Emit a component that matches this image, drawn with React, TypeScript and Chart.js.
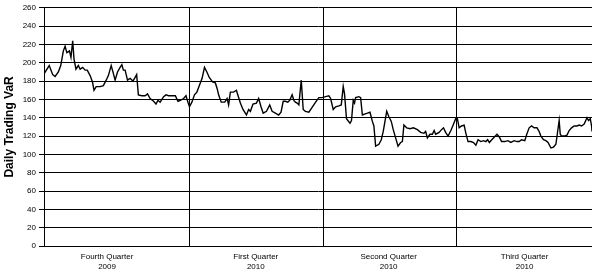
import { useEffect, useRef } from "react";
import { Chart, registerables } from "chart.js";

Chart.register(...registerables);

// Trading-day position (from start of Q4 2009) and daily VaR readings
const days = [
  0, 2.4, 4.0, 5.1, 6.6, 7.7, 8.9, 9.7, 10.5, 11.7,
  12.4, 13.2, 13.8, 14.7, 15.8, 16.6, 17.8, 18.9, 19.9, 21.2,
  22.3, 23.0, 24.0, 25.8, 27.3, 28.6, 29.6, 30.9, 31.7, 32.7,
  33.8, 35.0, 35.8, 36.5, 37.3, 38.4, 39.6, 40.9, 41.9, 42.6,
  43.4,
  45.0, 46.5, 47.6, 48.8, 50.4, 51.5, 52.4, 53.4, 55.0, 56.1,
  57.3, 58.8, 60.4, 61.6, 62.7, 64.2, 65.3, 66.2, 66.9, 68.0,
  69.2, 70.3, 71.4, 72.7, 73.8, 74.9, 76.0, 77.5, 78.8, 79.6,
  80.3, 81.5, 83.1, 84.2, 84.9, 85.7, 87.2, 88.5,
  89.1, 90.3, 91.5, 93.1, 94.1, 94.9, 96.1, 97.7, 98.7, 99.8,
  100.8, 102.3, 103.8, 104.9, 106.4, 107.9, 109.0, 110.0, 111.0, 112.1,
  113.0, 114.1, 114.9, 115.6, 116.4, 117.2, 118.3, 119.2, 120.2, 121.8,
  122.9, 124.9, 126.4, 127.9, 129.5, 131.0,
  131.8, 133.0, 134.1, 135.6, 136.7, 137.6, 138.2, 139.1, 140.7, 141.4,
  142.2, 142.8, 143.3, 144.8, 145.6, 146.4, 147.4, 148.7, 149.9, 151.0,
  151.7, 152.5, 154.0, 155.1, 156.0, 157.6, 158.6, 159.7, 160.6, 161.7,
  162.8, 164.0, 164.8, 165.5, 166.8, 168.3, 169.9, 171.7, 173.2,
  174.7, 175.5, 176.3, 177.5, 178.6, 179.4, 180.1, 181.7, 182.8, 183.7,
  184.7, 185.8, 187.1, 188.3, 189.3, 190.1, 190.9, 192.0, 193.2, 194.0,
  195.0, 196.3, 197.5, 198.6, 199.6, 200.9, 202.1, 203.2, 204.0, 204.8,
  205.9, 207.1, 208.3, 209.4,
  210.4, 211.9, 213.3, 214.7, 216.2, 217.5, 218.5, 219.6, 221.1, 222.0,
  223.1, 224.2, 225.4, 226.7, 227.7, 228.5, 229.7, 230.8, 231.8, 233.1,
  234.3, 235.4, 236.2, 236.9, 237.4, 238.0, 239.2, 240.5, 241.5, 242.6,
  243.8, 245.1, 246.1, 247.2, 248.4, 249.7, 250.4, 251.2, 251.8, 252,
];

const varValues = [
  188, 197, 187, 185, 190, 197, 213, 218, 211, 213,
  206, 224, 204, 193, 197, 193, 195, 192, 192, 186,
  179, 170, 174, 174, 175, 181, 186, 197, 190, 181,
  190, 195, 198, 192, 192, 181, 183, 180, 184, 187,
  165,
  164, 164, 166, 161, 158, 155, 159, 157, 163, 165,
  164, 164, 164, 158, 159, 161, 164, 157, 152, 157,
  165, 168, 175, 183, 195, 190, 184, 179, 178, 172,
  165, 157, 157, 161, 154, 168, 168, 170,
  165, 156, 149, 143, 149, 147, 155, 156, 161, 152,
  145, 147, 154, 147, 145, 143, 146, 158, 158, 157,
  159, 165, 159, 157, 156, 154, 181, 149, 147, 146,
  150, 157, 162, 162, 163, 164,
  161, 149, 152, 153, 154, 174, 166, 139, 134, 137,
  159, 156, 162, 163, 162, 143, 144, 145, 146, 136,
  131, 109, 111, 116, 125, 147, 141, 136, 127, 118,
  109, 113, 114, 132, 129, 128, 129, 127, 124,
  123, 125, 118, 122, 122, 126, 122, 124, 127, 129,
  124, 120, 126, 133, 139, 139, 129, 131, 132, 123,
  114, 114, 113, 110, 116, 114, 115, 114, 116, 113,
  116, 119, 122, 119,
  114, 114, 115, 113, 115, 114, 114, 116, 115, 122,
  129, 131, 129, 129, 125, 120, 116, 115, 113, 107,
  108, 111, 125, 137, 122, 120, 120, 121, 126, 129,
  131, 131, 132, 131, 133, 140, 137, 139, 131, 125,
];

const quarterBounds = [67, 128.3, 189.8];
const labelPositions = [29, 97.4, 158.5, 221];
const quarterLabels = [
  ["Fourth Quarter", "2009"],
  ["First Quarter", "2010"],
  ["Second Quarter", "2010"],
  ["Third Quarter", "2010"],
];
const yMin = 0;
const yMax = 260;
const yStep = 20;
const dayMax = 252;
const yTitle = "Daily Trading VaR";

const tickFont = {
  family: "'Liberation Sans Narrow', 'Liberation Sans', Arial, sans-serif",
  size: 8,
};

export default function App() {
  const ref = useRef<HTMLCanvasElement>(null);

  useEffect(() => {
    document.body.style.margin = "0";
    const chart = new Chart(ref.current as HTMLCanvasElement, {
      type: "line",
      data: {
        datasets: [
          {
            data: days.map((d, i) => ({ x: d, y: varValues[i] })),
            borderColor: "#000",
            borderWidth: 1.4,
            pointRadius: 0,
            tension: 0,
            fill: false,
          },
        ],
      },
      options: {
        responsive: false,
        animation: false,
        layout: { padding: { top: 0, right: 0, bottom: 0, left: 0 } },
        plugins: { legend: { display: false }, tooltip: { enabled: false } },
        scales: {
          x: {
            type: "linear",
            min: 0,
            max: dayMax,
            afterBuildTicks: (s: any) => {
              s.ticks = [...quarterBounds, ...labelPositions]
                .sort((a, b) => a - b)
                .map((v) => ({ value: v }));
            },
            afterFit: (s: any) => {
              s.height = 29;
            },
            grid: {
              drawTicks: false,
              lineWidth: 1,
              color: (ctx: any) =>
                ctx.tick && quarterBounds.includes(ctx.tick.value)
                  ? "#000"
                  : "rgba(0,0,0,0)",
            },
            border: { display: true, color: "#000", width: 1 },
            ticks: {
              autoSkip: false,
              maxRotation: 0,
              minRotation: 0,
              padding: 6,
              color: "#000",
              font: tickFont,
              callback: (v: any) => {
                const i = labelPositions.indexOf(v);
                return i >= 0 ? quarterLabels[i] : "";
              },
            },
          },
          y: {
            min: yMin,
            max: yMax,
            afterFit: (s: any) => {
              s.width = 44;
            },
            ticks: {
              stepSize: yStep,
              color: "#000",
              font: tickFont,
              padding: 3,
            },
            grid: { color: "#000", lineWidth: 1, tickLength: 5 },
            border: { display: true, color: "#000", width: 1 },
            title: {
              display: true,
              text: yTitle,
              color: "#000",
              font: { family: "Arial, 'Liberation Sans', sans-serif", size: 12, weight: "bold" },
              padding: { top: 2, bottom: 0 },
            },
          },
        },
      },
    });
    return () => chart.destroy();
  }, []);

  return (
    <div style={{ width: 592, height: 275 }}>
      <canvas ref={ref} width={592} height={275} style={{ display: "block" }} />
    </div>
  );
}
